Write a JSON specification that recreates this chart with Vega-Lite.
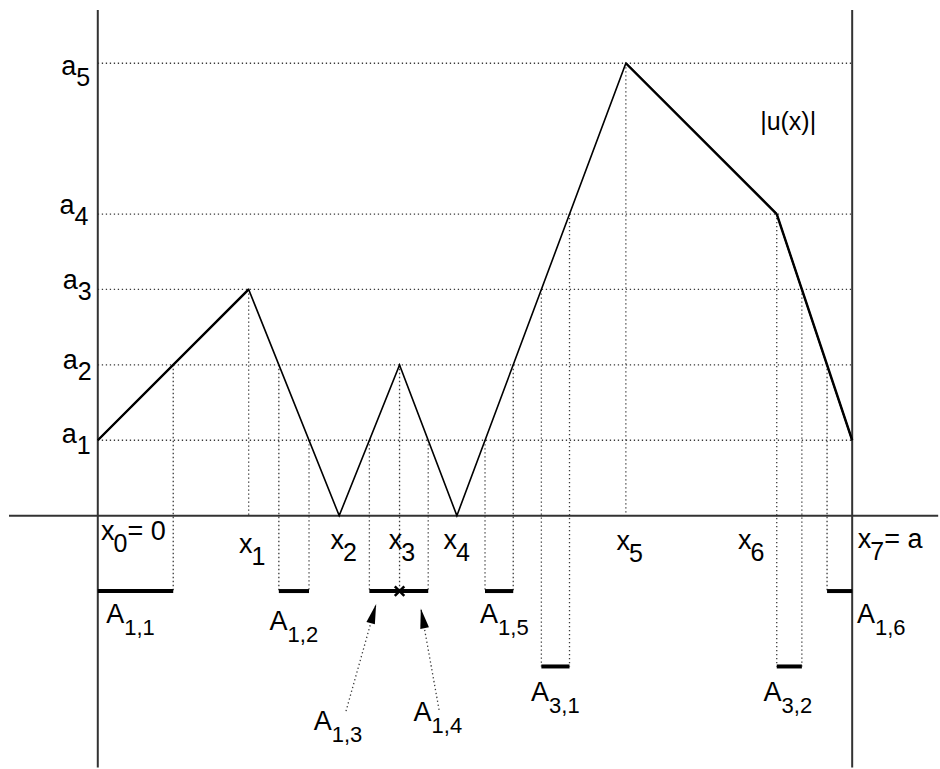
{
  "$schema": "https://vega.github.io/schema/vega-lite/v6.json",
  "width": 940,
  "height": 769,
  "autosize": {"type": "fit", "contains": "padding"},
  "padding": 0,
  "background": "white",
  "config": {"view": {"stroke": null}},
  "datasets": {
    "curve": [
      {"x": 0, "u": 1}, {"x": 2, "u": 3}, {"x": 3.2, "u": 0}, {"x": 4, "u": 2},
      {"x": 4.76, "u": 0}, {"x": 7, "u": 6}, {"x": 9, "u": 4}, {"x": 10, "u": 1}
    ],
    "thick": [
      {"seg": "s0", "x": 0, "u": 1}, {"seg": "s0", "x": 2, "u": 3},
      {"seg": "s5", "x": 7, "u": 6}, {"seg": "s5", "x": 9, "u": 4},
      {"seg": "s6", "x": 9, "u": 4}, {"seg": "s6", "x": 10, "u": 1}
    ],
    "levels": [
      {"u": 1, "a": 0, "b": 10}, {"u": 2, "a": 0, "b": 10}, {"u": 3, "a": 0, "b": 10},
      {"u": 4, "a": 0, "b": 10}, {"u": 6, "a": 0, "b": 10}
    ],
    "drops": [
      {"x": 1, "u1": 2, "u2": -1},
      {"x": 2, "u1": 3, "u2": 0},
      {"x": 2.4, "u1": 2, "u2": -1},
      {"x": 2.8, "u1": 1, "u2": -1},
      {"x": 3.6, "u1": 1, "u2": -1},
      {"x": 4, "u1": 2, "u2": -1},
      {"x": 4.38, "u1": 1, "u2": -1},
      {"x": 5.133, "u1": 1, "u2": -1},
      {"x": 5.507, "u1": 2, "u2": -1},
      {"x": 5.88, "u1": 3, "u2": -2},
      {"x": 6.253, "u1": 4, "u2": -2},
      {"x": 7, "u1": 6, "u2": 0},
      {"x": 9, "u1": 4, "u2": -2},
      {"x": 9.333, "u1": 3, "u2": -2},
      {"x": 9.667, "u1": 2, "u2": -1}
    ],
    "bars": [
      {"a": 0, "b": 1, "u": -1},
      {"a": 2.4, "b": 2.8, "u": -1},
      {"a": 3.6, "b": 4.38, "u": -1},
      {"a": 5.133, "b": 5.507, "u": -1},
      {"a": 9.667, "b": 10, "u": -1},
      {"a": 5.88, "b": 6.253, "u": -2},
      {"a": 9, "b": 9.333, "u": -2}
    ],
    "frame": [
      {"a": -1.177, "b": 11.14, "u1": 0, "u2": 0},
      {"a": 0, "b": 0, "u1": 6.706, "u2": -3.34},
      {"a": 10, "b": 10, "u1": 6.706, "u2": -3.34}
    ],
    "arrows": [
      {"name": "A13", "xb": 3.29, "ub": -2.593, "xt": 3.69, "ut": -1.17},
      {"name": "A14", "xb": 4.524, "ub": -2.575, "xt": 4.282, "ut": -1.23}
    ],
    "cross": [{"x": 4, "u": -1}],
    "labels": [
      {"x": -0.485, "u": 5.847, "t": "a", "s": "5", "f": "a"},
      {"x": -0.508, "u": 3.995, "t": "a", "s": "4", "f": "a"},
      {"x": -0.464, "u": 3.003, "t": "a", "s": "3", "f": "a"},
      {"x": -0.464, "u": 1.944, "t": "a", "s": "2", "f": "a"},
      {"x": -0.477, "u": 0.966, "t": "a", "s": "1", "f": "a"},
      {"x": 0.042, "u": -0.317, "t": "x", "s": "0", "f": "x"},
      {"x": 1.872, "u": -0.489, "t": "x", "s": "1", "f": "x"},
      {"x": 3.085, "u": -0.437, "t": "x", "s": "2", "f": "x"},
      {"x": 3.856, "u": -0.446, "t": "x", "s": "3", "f": "x"},
      {"x": 4.583, "u": -0.437, "t": "x", "s": "4", "f": "x"},
      {"x": 6.876, "u": -0.459, "t": "x", "s": "5", "f": "x"},
      {"x": 8.486, "u": -0.446, "t": "x", "s": "6", "f": "x"},
      {"x": 10.073, "u": -0.423, "t": "x", "s": "7", "f": "x"},
      {"x": 0.112, "u": -1.429, "t": "A", "s": "1,1", "f": "A"},
      {"x": 2.277, "u": -1.517, "t": "A", "s": "1,2", "f": "A"},
      {"x": 2.863, "u": -2.84, "t": "A", "s": "1,3", "f": "A"},
      {"x": 4.186, "u": -2.725, "t": "A", "s": "1,4", "f": "A"},
      {"x": 5.068, "u": -1.429, "t": "A", "s": "1,5", "f": "A"},
      {"x": 10.063, "u": -1.429, "t": "A", "s": "1,6", "f": "A"},
      {"x": 5.743, "u": -2.456, "t": "A", "s": "3,1", "f": "A"},
      {"x": 8.825, "u": -2.456, "t": "A", "s": "3,2", "f": "A"},
      {"x": 0.395, "u": -0.317, "t": "= 0", "s": "", "f": "n"},
      {"x": 10.425, "u": -0.423, "t": "= a", "s": "", "f": "n"},
      {"x": 8.78, "u": 5.119, "t": "|u(x)|", "s": "", "f": "u"}
    ]
  },
  "layer": [
    {
      "data": {"name": "levels"},
      "mark": {"type": "rule", "color": "#3a3a3a", "strokeWidth": 1.3, "strokeDash": [1.3, 2.7]},
      "encoding": {
        "x": {"field": "a", "type": "quantitative", "scale": {"domain": [-1.2963, 11.1376], "nice": false, "zero": false}, "axis": null},
        "x2": {"field": "b"},
        "y": {"field": "u", "type": "quantitative", "scale": {"domain": [-3.3333, 6.8386], "nice": false, "zero": false}, "axis": null}
      }
    },
    {
      "data": {"name": "drops"},
      "mark": {"type": "rule", "color": "#3a3a3a", "strokeWidth": 1.3, "strokeDash": [1.3, 2.7]},
      "encoding": {
        "x": {"field": "x", "type": "quantitative", "scale": {"domain": [-1.2963, 11.1376], "nice": false, "zero": false}, "axis": null},
        "y": {"field": "u1", "type": "quantitative", "scale": {"domain": [-3.3333, 6.8386], "nice": false, "zero": false}, "axis": null},
        "y2": {"field": "u2"}
      }
    },
    {
      "data": {"name": "arrows"},
      "mark": {"type": "rule", "color": "#3a3a3a", "strokeWidth": 1.3, "strokeDash": [1.3, 2.7]},
      "encoding": {
        "x": {"field": "xb", "type": "quantitative", "scale": {"domain": [-1.2963, 11.1376], "nice": false, "zero": false}, "axis": null},
        "x2": {"field": "xt"},
        "y": {"field": "ub", "type": "quantitative", "scale": {"domain": [-3.3333, 6.8386], "nice": false, "zero": false}, "axis": null},
        "y2": {"field": "ut"}
      }
    },
    {
      "data": {"name": "frame"},
      "mark": {"type": "rule", "color": "#333333", "strokeWidth": 2},
      "encoding": {
        "x": {"field": "a", "type": "quantitative", "scale": {"domain": [-1.2963, 11.1376], "nice": false, "zero": false}, "axis": null},
        "x2": {"field": "b"},
        "y": {"field": "u1", "type": "quantitative", "scale": {"domain": [-3.3333, 6.8386], "nice": false, "zero": false}, "axis": null},
        "y2": {"field": "u2"}
      }
    },
    {
      "data": {"name": "curve"},
      "mark": {"type": "line", "color": "black", "strokeWidth": 1.6, "strokeJoin": "miter"},
      "encoding": {
        "x": {"field": "x", "type": "quantitative", "scale": {"domain": [-1.2963, 11.1376], "nice": false, "zero": false}, "axis": null},
        "y": {"field": "u", "type": "quantitative", "scale": {"domain": [-3.3333, 6.8386], "nice": false, "zero": false}, "axis": null}
      }
    },
    {
      "data": {"name": "thick"},
      "mark": {"type": "line", "color": "black", "strokeWidth": 2.4, "strokeJoin": "miter"},
      "encoding": {
        "x": {"field": "x", "type": "quantitative", "scale": {"domain": [-1.2963, 11.1376], "nice": false, "zero": false}, "axis": null},
        "y": {"field": "u", "type": "quantitative", "scale": {"domain": [-3.3333, 6.8386], "nice": false, "zero": false}, "axis": null},
        "detail": {"field": "seg"}
      }
    },
    {
      "data": {"name": "bars"},
      "mark": {"type": "rule", "color": "black", "strokeWidth": 4},
      "encoding": {
        "x": {"field": "a", "type": "quantitative", "scale": {"domain": [-1.2963, 11.1376], "nice": false, "zero": false}, "axis": null},
        "x2": {"field": "b"},
        "y": {"field": "u", "type": "quantitative", "scale": {"domain": [-3.3333, 6.8386], "nice": false, "zero": false}, "axis": null}
      }
    },
    {
      "data": {"name": "cross"},
      "mark": {"type": "point", "shape": "M-1,-1L1,1M-1,1L1,-1", "size": 90, "filled": false, "color": "black", "strokeWidth": 2.5, "opacity": 1},
      "encoding": {
        "x": {"field": "x", "type": "quantitative", "scale": {"domain": [-1.2963, 11.1376], "nice": false, "zero": false}, "axis": null},
        "y": {"field": "u", "type": "quantitative", "scale": {"domain": [-3.3333, 6.8386], "nice": false, "zero": false}, "axis": null}
      }
    },
    {
      "data": {"name": "arrows"},
      "transform": [{"filter": "datum.name === 'A13'"}],
      "mark": {"type": "point", "shape": "M0,0L0.22,1L-0.22,1Z", "size": 1600, "filled": true, "color": "black", "angle": 16, "opacity": 1},
      "encoding": {
        "x": {"field": "xt", "type": "quantitative", "scale": {"domain": [-1.2963, 11.1376], "nice": false, "zero": false}, "axis": null},
        "y": {"field": "ut", "type": "quantitative", "scale": {"domain": [-3.3333, 6.8386], "nice": false, "zero": false}, "axis": null}
      }
    },
    {
      "data": {"name": "arrows"},
      "transform": [{"filter": "datum.name === 'A14'"}],
      "mark": {"type": "point", "shape": "M0,0L0.22,1L-0.22,1Z", "size": 1600, "filled": true, "color": "black", "angle": 349, "opacity": 1},
      "encoding": {
        "x": {"field": "xt", "type": "quantitative", "scale": {"domain": [-1.2963, 11.1376], "nice": false, "zero": false}, "axis": null},
        "y": {"field": "ut", "type": "quantitative", "scale": {"domain": [-3.3333, 6.8386], "nice": false, "zero": false}, "axis": null}
      }
    },
    {
      "data": {"name": "labels"},
      "transform": [{"filter": "datum.f !== 'u'"}],
      "mark": {"type": "text", "align": "left", "baseline": "alphabetic", "font": "Liberation Sans", "fontSize": 27, "color": "black"},
      "encoding": {
        "x": {"field": "x", "type": "quantitative", "scale": {"domain": [-1.2963, 11.1376], "nice": false, "zero": false}, "axis": null},
        "y": {"field": "u", "type": "quantitative", "scale": {"domain": [-3.3333, 6.8386], "nice": false, "zero": false}, "axis": null},
        "text": {"field": "t"}
      }
    },
    {
      "data": {"name": "labels"},
      "transform": [{"filter": "datum.f === 'u'"}],
      "mark": {"type": "text", "align": "left", "baseline": "alphabetic", "font": "Liberation Sans", "fontSize": 25, "color": "black"},
      "encoding": {
        "x": {"field": "x", "type": "quantitative", "scale": {"domain": [-1.2963, 11.1376], "nice": false, "zero": false}, "axis": null},
        "y": {"field": "u", "type": "quantitative", "scale": {"domain": [-3.3333, 6.8386], "nice": false, "zero": false}, "axis": null},
        "text": {"field": "t"}
      }
    },
    {
      "data": {"name": "labels"},
      "transform": [{"filter": "datum.f === 'a'"}],
      "mark": {"type": "text", "align": "left", "baseline": "alphabetic", "font": "Liberation Sans", "fontSize": 25, "color": "black", "dx": 15, "dy": 11},
      "encoding": {
        "x": {"field": "x", "type": "quantitative", "scale": {"domain": [-1.2963, 11.1376], "nice": false, "zero": false}, "axis": null},
        "y": {"field": "u", "type": "quantitative", "scale": {"domain": [-3.3333, 6.8386], "nice": false, "zero": false}, "axis": null},
        "text": {"field": "s"}
      }
    },
    {
      "data": {"name": "labels"},
      "transform": [{"filter": "datum.f === 'x'"}],
      "mark": {"type": "text", "align": "left", "baseline": "alphabetic", "font": "Liberation Sans", "fontSize": 25, "color": "black", "dx": 12.5, "dy": 12},
      "encoding": {
        "x": {"field": "x", "type": "quantitative", "scale": {"domain": [-1.2963, 11.1376], "nice": false, "zero": false}, "axis": null},
        "y": {"field": "u", "type": "quantitative", "scale": {"domain": [-3.3333, 6.8386], "nice": false, "zero": false}, "axis": null},
        "text": {"field": "s"}
      }
    },
    {
      "data": {"name": "labels"},
      "transform": [{"filter": "datum.f === 'A'"}],
      "mark": {"type": "text", "align": "left", "baseline": "alphabetic", "font": "Liberation Sans", "fontSize": 22, "color": "black", "dx": 18, "dy": 12},
      "encoding": {
        "x": {"field": "x", "type": "quantitative", "scale": {"domain": [-1.2963, 11.1376], "nice": false, "zero": false}, "axis": null},
        "y": {"field": "u", "type": "quantitative", "scale": {"domain": [-3.3333, 6.8386], "nice": false, "zero": false}, "axis": null},
        "text": {"field": "s"}
      }
    }
  ]
}
